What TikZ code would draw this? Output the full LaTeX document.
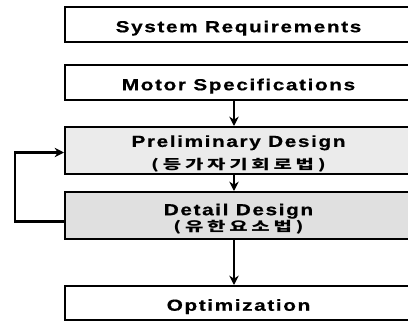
\documentclass[tikz,border=0pt]{standalone}
\usepackage{fontspec}
\setmainfont{Liberation Sans}
\newfontfamily\engfont{Liberation Sans}[FakeStretch=1.3,LetterSpace=10,FakeBold=0.6]
\newfontfamily\krfont{Noto Sans CJK KR}[FakeStretch=1.5,LetterSpace=28]
\usepackage{tikz}
\usetikzlibrary{arrows.meta,calc}
\tikzstyle{arrow} = [line width=1.6pt,-{Stealth[length=7pt,width=7pt]}]
\tikzstyle{stepbox} = [draw,line width=1.5pt,anchor=west,inner sep=0pt,font=\engfont\bfseries\fontsize{12}{15}\selectfont]
% text centred on the visible part of the box, box runs on past the right edge
\newcommand{\boxtext}[1]{\makebox[260.25pt]{\raisebox{-2.8pt}[\height][\depth]{\begin{tabular}{@{}c@{}}#1\end{tabular}}}\hspace*{20pt}}
\newcommand{\krtext}[1]{{\krfont\bfseries\fontsize{10}{12}\selectfont #1}}

\begin{document}
\begin{tikzpicture}[x=0.75pt,y=0.75pt,yscale=-1,xscale=1]
\useasboundingbox (0,0) rectangle (408,322);
\clip (0,0) rectangle (408,322);

% boxes
\node [stepbox,minimum height=35*0.75pt] (sysreq) at (64,24.5) {\boxtext{System Requirements}};
\node [stepbox,minimum height=35*0.75pt] (motorspec) at (64,82.5) {\boxtext{Motor Specifications}};
\node [stepbox,fill=black!8,minimum height=47*0.75pt] (prelim) at (64,150.5) {\boxtext{Preliminary Design\\[2pt]\krtext{(등가자기회로법)}}};
\node [stepbox,fill=black!12,minimum height=47*0.75pt] (detail) at (64,215.5) {\boxtext{Detail Design\\[-3pt]\krtext{(유한요소법)}}};
\node [stepbox,minimum height=34*0.75pt] (optim) at (64,303) {\boxtext{Optimization}};

% arrows
\draw [arrow] (motorspec.south -| 234,0) -- (prelim.north -| 234,0);
\draw [arrow] (prelim.south -| 234,0) -- (detail.north -| 234,0);
\draw [arrow] (detail.south -| 234,0) -- (optim.north -| 234,0);
% feedback loop
\draw [arrow] ([yshift=4.5pt]detail.west) -- ++(-49,0) |- ([yshift=1.5pt]prelim.west);

\end{tikzpicture}
\end{document}
